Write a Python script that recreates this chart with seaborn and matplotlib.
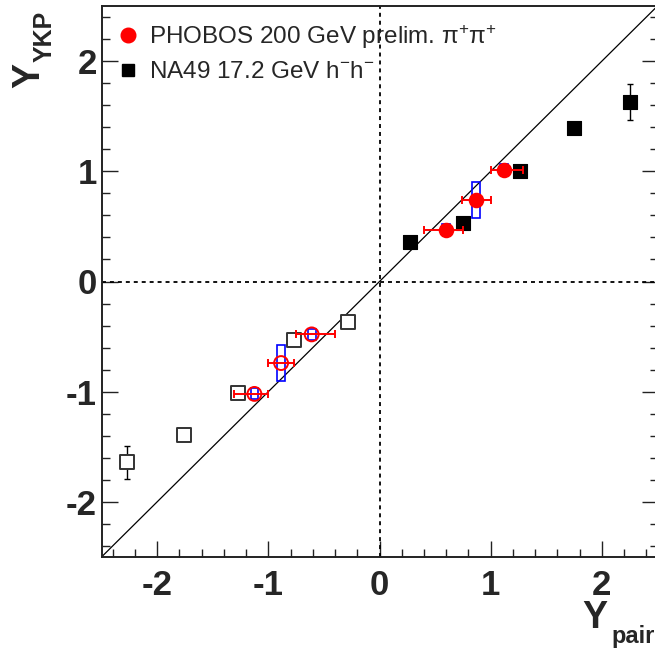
import numpy as np
import matplotlib
matplotlib.use("Agg")
import matplotlib.pyplot as plt
import seaborn as sns
from matplotlib.patches import Rectangle
from matplotlib.lines import Line2D

# NA49 17.2 GeV h-h- (measured, forward side)
na49_x = [0.27, 0.75, 1.26, 1.75, 2.25]
na49_y = [0.36, 0.53, 1.00, 1.39, 1.63]
na49_yerr = [0.0, 0.0, 0.0, 0.0, 0.16]
# reflected points
na49r_x = [-0.28, -0.77, -1.27, -1.76, -2.27]
na49r_y = [-0.37, -0.53, -1.01, -1.39, -1.64]
na49r_yerr = [0.0, 0.0, 0.0, 0.0, 0.15]

# PHOBOS 200 GeV prelim. pi+pi+
phob_x = [0.60, 0.87, 1.12]
phob_y = [0.47, 0.74, 1.015]
phob_xlo = [0.20, 0.13, 0.12]
phob_xhi = [0.15, 0.13, 0.17]
phob_sys = [0.05, 0.16, 0.05]
# reflected
phobr_x = [-0.61, -0.885, -1.125]
phobr_y = [-0.48, -0.74, -1.02]
phobr_xlo = [0.14, 0.12, 0.185]
phobr_xhi = [0.21, 0.12, 0.125]
phobr_sys = [0.05, 0.16, 0.05]
sys_halfwidth = 0.035

sns.set_style("ticks")
plt.rcParams["font.family"] = ["Liberation Sans", "DejaVu Sans"]
plt.rcParams["mathtext.fontset"] = "custom"
plt.rcParams["mathtext.rm"] = "Liberation Sans"
plt.rcParams["mathtext.it"] = "Liberation Sans:italic"
plt.rcParams["mathtext.bf"] = "Liberation Sans:bold"
plt.rcParams["axes.unicode_minus"] = False

W, H = 655, 648
fig = plt.figure(figsize=(6.55, 6.48), dpi=100)
ax = fig.add_axes([101.5 / W, 1 - 557 / H, (657.5 - 101.5) / W, 551 / H])
ax.set_xlim(-2.5, 2.5)
ax.set_ylim(-2.5, 2.5)

# reference lines
ax.plot([-2.5, 2.5], [-2.5, 2.5], color="black", lw=0.9, zorder=1)
ax.axvline(0, color="black", lw=1.3, ls=(0, (2.2, 2.2)), zorder=1)
ax.axhline(0, color="black", lw=1.3, ls=(0, (2.2, 2.2)), zorder=1)

# NA49 squares
ax.errorbar(na49_x, na49_y, yerr=na49_yerr, fmt="none", ecolor="black",
            elinewidth=1, capsize=2.5, zorder=2)
ax.errorbar(na49r_x, na49r_y, yerr=na49r_yerr, fmt="none", ecolor="black",
            elinewidth=1, capsize=2.5, zorder=2)
sns.scatterplot(x=na49_x, y=na49_y, marker="s", s=92, color="black",
                edgecolor="black", linewidth=0.8, ax=ax, zorder=3)
sns.scatterplot(x=na49r_x, y=na49r_y, marker="s", s=88, facecolor="white",
                edgecolor="#333333", linewidth=1.4, ax=ax, zorder=3)

# PHOBOS systematic boxes
for xs, ys, ss in [(phob_x, phob_y, phob_sys), (phobr_x, phobr_y, phobr_sys)]:
    for xv, yv, sv in zip(xs, ys, ss):
        ax.add_patch(Rectangle((xv - sys_halfwidth, yv - sv), 2 * sys_halfwidth, 2 * sv,
                               fill=False, edgecolor="blue", lw=1.2, zorder=4))

# PHOBOS error bars and markers
ax.errorbar(phob_x, phob_y, xerr=[phob_xlo, phob_xhi], fmt="none", ecolor="red",
            elinewidth=1.4, capsize=3, capthick=1.4, zorder=5)
ax.errorbar(phobr_x, phobr_y, xerr=[phobr_xlo, phobr_xhi], fmt="none", ecolor="red",
            elinewidth=1.4, capsize=3, capthick=1.4, zorder=5)
sns.scatterplot(x=phob_x, y=phob_y, marker="o", s=125, color="red",
                edgecolor="red", linewidth=0, ax=ax, zorder=6)
sns.scatterplot(x=phobr_x, y=phobr_y, marker="o", s=100, facecolor="none",
                edgecolor="red", linewidth=1.4, ax=ax, zorder=6)

# axes styling (ROOT look)
ax.set_xticks([-2, -1, 0, 1, 2])
ax.set_yticks([-2, -1, 0, 1, 2])
ax.set_xticks(np.arange(-2.4, 2.5, 0.2), minor=True)
ax.set_yticks(np.arange(-2.4, 2.5, 0.2), minor=True)
ax.tick_params(which="both", direction="in", top=False, right=True, width=1,
               color="#222222")
ax.tick_params(which="major", length=11.5)
ax.tick_params(which="minor", length=5.8)
ax.tick_params(axis="x", which="major", pad=8.5, labelsize=25)
ax.tick_params(axis="y", which="major", pad=3.5, labelsize=25)
for lab in ax.get_xticklabels() + ax.get_yticklabels():
    lab.set_fontweight("bold")
for sp in ax.spines.values():
    sp.set_linewidth(1.4)
    sp.set_color("#222222")

# axis titles (main letter + lowered subscript)
fig.text(582 / W, 1 - 628 / H, "Y", fontsize=27, fontweight="bold",
         ha="left", va="baseline")
fig.text(611 / W, 1 - 643 / H, "pair", fontsize=17, fontweight="bold",
         ha="left", va="baseline")
fig.text(39 / W, 1 - 88 / H, "Y", fontsize=27, fontweight="bold", rotation=90,
         rotation_mode="anchor", ha="left", va="baseline")
fig.text(52 / W, 1 - 62 / H, "YKP", fontsize=18, fontweight="bold", rotation=90,
         rotation_mode="anchor", ha="left", va="baseline")

# legend
handles = [
    Line2D([], [], marker="o", color="red", ls="none", markersize=10.5),
    Line2D([], [], marker="s", color="black", ls="none", markersize=8.5),
]
labels = [r"PHOBOS 200 GeV prelim. $\mathrm{\pi}^{+}\mathrm{\pi}^{+}$",
          r"NA49 17.2 GeV $\mathrm{h}^{-}\mathrm{h}^{-}$"]
ax.legend(handles, labels, loc="upper left", bbox_to_anchor=(0.0, 1.0),
          frameon=False, fontsize=17.5, handlelength=0.8, handletextpad=0.45,
          labelspacing=0.42, borderaxespad=0.3)

fig.savefig("out.png", dpi=100)
